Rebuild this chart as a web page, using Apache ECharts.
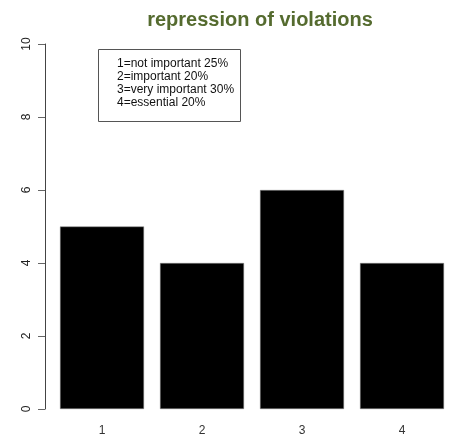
<!DOCTYPE html>
<html>
<head>
<meta charset="utf-8">
<script src="https://cdn.jsdelivr.net/npm/echarts@6/dist/echarts.min.js"></script>
<style>
html,body{margin:0;padding:0;background:#fff;}
#c{width:452px;height:439px;}
</style>
</head>
<body>
<div id="c"></div>
<script>
const categories = ['1', '2', '3', '4'];
const values = [5, 4, 6, 4];
const yTicks = [0, 2, 4, 6, 8, 10];
const legendLines = ['1=not important 25%', '2=important 20%', '3=very important 30%', '4=essential 20%'];
const titleText = 'repression of violations';

const chart = echarts.init(document.getElementById('c'), null, {renderer: 'canvas'});
const font = '"Liberation Sans", Arial, sans-serif';
chart.setOption({
  animation: false,
  backgroundColor: '#ffffff',
  title: {
    text: titleText,
    left: 255, top: 5,
    textAlign: 'center',
    textStyle: {fontFamily: font, fontSize: 20, fontWeight: 'bold', color: '#556b2f'}
  },
  grid: {left: 52, right: 0, top: 44, bottom: 30},
  xAxis: {
    type: 'category',
    data: categories,
    boundaryGap: true,
    axisLine: {show: false},
    axisTick: {show: false},
    axisLabel: {fontFamily: font, fontSize: 12, color: '#333', margin: 16}
  },
  yAxis: {
    type: 'value',
    min: yTicks[0], max: yTicks[yTicks.length - 1], interval: 2,
    offset: 7,
    splitLine: {show: false},
    axisLine: {show: true, lineStyle: {color: '#444', width: 1}},
    axisTick: {show: true, length: 7, lineStyle: {color: '#666'}},
    axisLabel: {fontFamily: font, fontSize: 12, color: '#222', rotate: 90, margin: 12}
  },
  series: [{
    type: 'bar',
    data: values,
    barWidth: 84,
    itemStyle: {color: '#000000', borderColor: '#888', borderWidth: 0.5}
  }],
  graphic: [
    {type: 'rect', left: 96, top: 47, shape: {width: 142, height: 72},
     style: {fill: 'none', stroke: '#555', lineWidth: 1}},
    {type: 'text', left: 117, top: 57,
     style: {text: legendLines.join('\n'), font: '12px ' + font, lineHeight: 13, fill: '#111'}}
  ]
});
</script>
</body>
</html>
